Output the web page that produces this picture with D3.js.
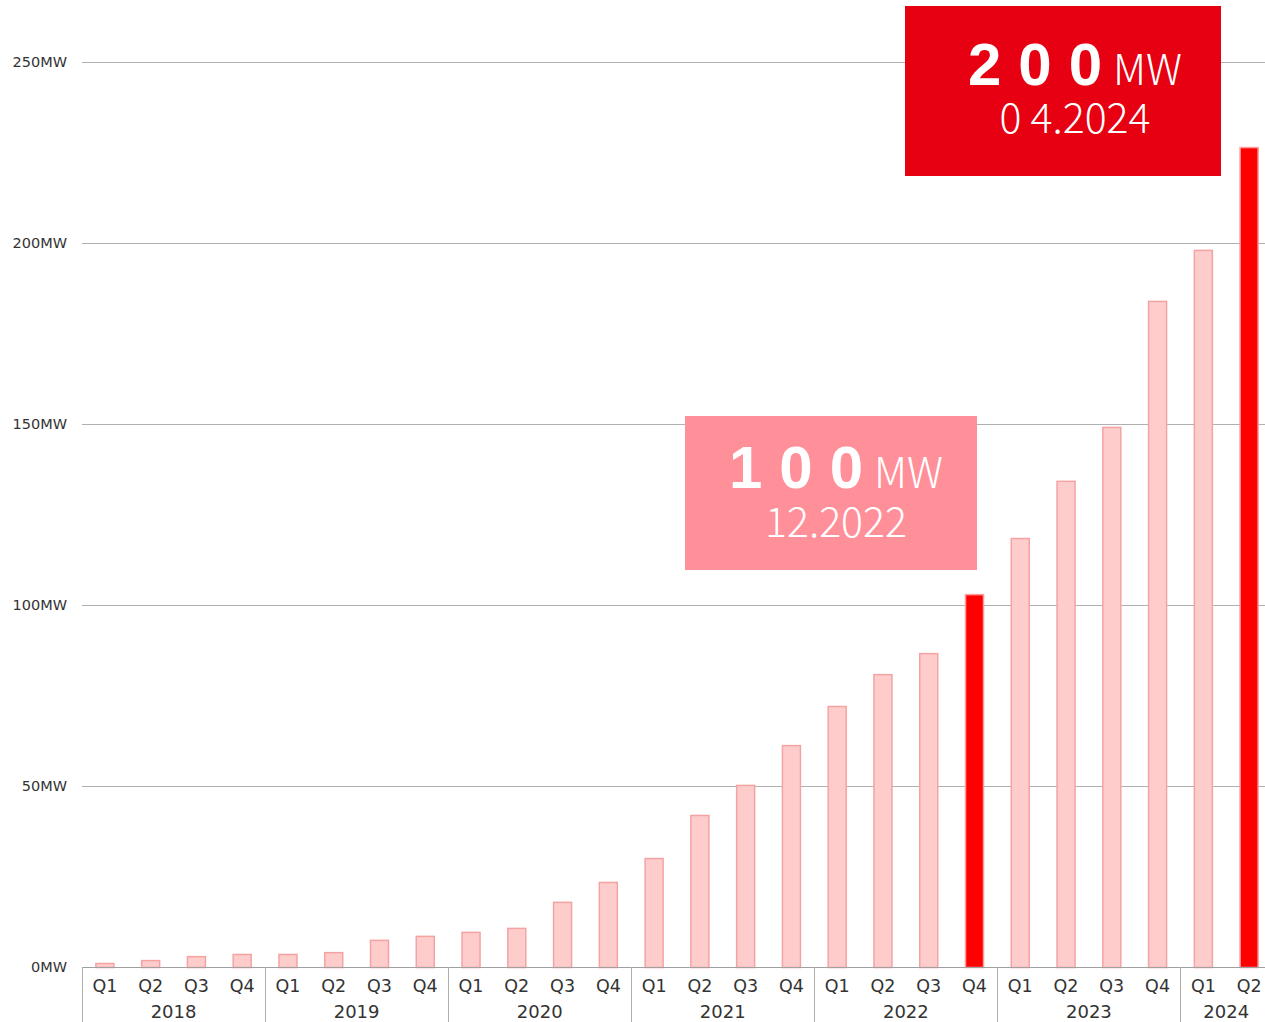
<!DOCTYPE html>
<html><head><meta charset="utf-8">
<script src="https://cdn.jsdelivr.net/npm/d3@7"></script>
<style>body{margin:0;background:#fff}svg{display:block}</style>
</head><body><svg id="c" width="1265" height="1022"></svg>
<script>
const years = ["2018","2019","2020","2021","2022","2023","2024"];
const quarters = ["Q1","Q2","Q3","Q4"];
const categories = ["2018Q1","2018Q2","2018Q3","2018Q4","2019Q1","2019Q2","2019Q3","2019Q4","2020Q1","2020Q2","2020Q3","2020Q4","2021Q1","2021Q2","2021Q3","2021Q4","2022Q1","2022Q2","2022Q3","2022Q4","2023Q1","2023Q2","2023Q3","2023Q4","2024Q1","2024Q2"];
const values = [1.1,1.9,3.0,3.6,3.6,4.1,7.5,8.6,9.7,10.8,18.0,23.5,30.1,42.0,50.3,61.3,72.1,80.9,86.7,103.0,118.5,134.3,149.2,184.0,198.1,226.5];
const highlighted = ["2022Q4","2024Q2"];
const yTicks = [0,50,100,150,200,250];

const svg = d3.select("#c");
const x = d3.scaleBand().domain(categories).range([82,1272]).paddingInner(0.585).paddingOuter(0.2925);
const y = d3.scaleLinear().domain([0,250]).range([967,62]);
const font = "'DejaVu Sans',sans-serif";

// grid
svg.append("g").selectAll("line").data(yTicks).join("line")
  .attr("x1",82).attr("x2",1265).attr("y1",d=>y(d)+0.5).attr("y2",d=>y(d)+0.5)
  .attr("stroke","#b0b0b0").attr("stroke-width",1);
svg.append("g").selectAll("text").data(yTicks).join("text")
  .attr("x",67).attr("y",d=>y(d)+5).attr("text-anchor","end")
  .attr("font-family",font).attr("font-size",14.5).attr("fill","#333")
  .text(d=>d+"MW");

// bars
svg.append("g").selectAll("rect").data(categories).join("rect")
  .attr("x",d=>x(d)+0.5).attr("width",x.bandwidth()-1)
  .attr("y",(d,i)=>y(values[i])+0.5).attr("height",(d,i)=>y(0)-y(values[i]))
  .attr("fill",d=>highlighted.includes(d)?"#ff0000":"#ffcccc")
  .attr("stroke",d=>highlighted.includes(d)?"#ff9a9a":"#f4a3a3").attr("stroke-width",1.5);

// x axis
svg.append("line").attr("x1",82).attr("x2",1265).attr("y1",967.5).attr("y2",967.5).attr("stroke","#a0a0a0");
const step = x.step();
const yearStart = i => x(categories[i*4]) - x.paddingInner()*step/2;
svg.append("g").selectAll("line").data(years).join("line")
  .attr("x1",(d,i)=>Math.round(yearStart(i))+0.5)
  .attr("x2",(d,i)=>Math.round(yearStart(i))+0.5)
  .attr("y1",967).attr("y2",1022).attr("stroke","#b0b0b0");
svg.append("g").selectAll("text").data(categories).join("text")
  .attr("x",d=>x(d)+x.bandwidth()/2).attr("y",992).attr("text-anchor","middle")
  .attr("font-family",font).attr("font-size",17.5).attr("fill","#333")
  .text((d,i)=>quarters[i%4]);
svg.append("g").selectAll("text").data(years).join("text")
  .attr("x",(d,i)=>{const n=Math.min(4,categories.length-i*4); return yearStart(i)+n*step/2;})
  .attr("y",1018).attr("text-anchor","middle")
  .attr("font-family",font).attr("font-size",18).attr("fill","#333")
  .text(d=>d);

// annotations
function box(x0,y0,w,h,color,num,unit,date,cx,numY,dateY){
  const g = svg.append("g");
  g.append("rect").attr("x",x0).attr("y",y0).attr("width",w).attr("height",h).attr("fill",color);
  const t = g.append("text").attr("x",cx).attr("y",numY).attr("text-anchor","middle").attr("fill","#fff").attr("font-family","'Liberation Sans',Arial,sans-serif");
  t.append("tspan").attr("font-size",60).attr("font-weight","bold").attr("letter-spacing",17).text(num);
  t.append("tspan").attr("font-size",42).attr("font-family","'Noto Sans CJK JP',sans-serif").attr("font-weight",300).attr("dx",-6).text(unit);
  g.append("text").attr("x",cx).attr("y",dateY).attr("text-anchor","middle").attr("fill","#fff")
    .attr("font-family","'Noto Sans CJK JP',sans-serif").attr("font-weight",300).attr("font-size",41).text(date);
}
box(905,6,316,170,"#e60012","200","MW","0 4.2024",1075,85,133);
box(685,416,292,154,"#ff8f99","100","MW","12.2022",836,488,537);
</script></body></html>
